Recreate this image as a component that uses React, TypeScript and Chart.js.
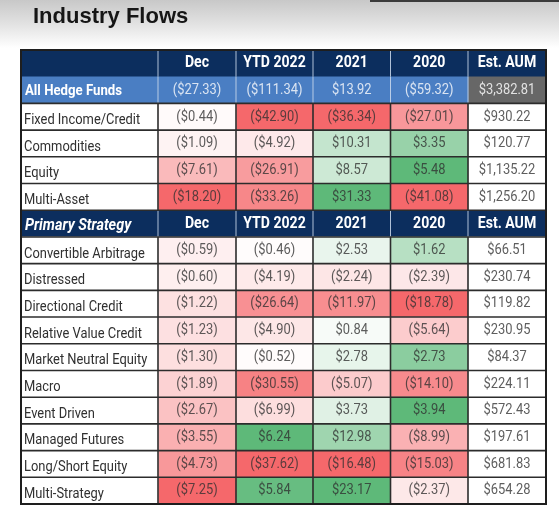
import React, { useEffect, useRef } from 'react';
import { Chart, registerables } from 'chart.js';

Chart.register(...registerables);

// ---------- data ----------
const title = 'Industry Flows';
const columnHeaders = ['Dec', 'YTD 2022', '2021', '2020', 'Est. AUM'];

const totalLabel = 'All Hedge Funds';
const totalValues = [-27.33, -111.34, 13.92, -59.32, 3382.81];

const assetClasses = ['Fixed Income/Credit', 'Commodities', 'Equity', 'Multi-Asset'];
const assetDec = [-0.44, -1.09, -7.61, -18.2];
const assetYtd2022 = [-42.9, -4.92, -26.91, -33.26];
const asset2021 = [-36.34, 10.31, 8.57, 31.33];
const asset2020 = [-27.01, 3.35, 5.48, -41.08];
const assetAum = [930.22, 120.77, 1135.22, 1256.2];

const sectionLabel = 'Primary Strategy';
const strategies = [
  'Convertible Arbitrage',
  'Distressed',
  'Directional Credit',
  'Relative Value Credit',
  'Market Neutral Equity',
  'Macro',
  'Event Driven',
  'Managed Futures',
  'Long/Short Equity',
  'Multi-Strategy',
];
const stratDec = [-0.59, -0.6, -1.22, -1.23, -1.3, -1.89, -2.67, -3.55, -4.73, -7.25];
const stratYtd2022 = [-0.46, -4.19, -26.64, -4.9, -0.52, -30.55, -6.99, 6.24, -37.62, 5.84];
const strat2021 = [2.53, -2.24, -11.97, 0.84, 2.78, -5.07, 3.73, 12.98, -16.48, 23.17];
const strat2020 = [1.62, -2.39, -18.78, -5.64, 2.73, -14.1, 3.94, -8.99, -15.03, -2.37];
const stratAum = [66.51, 230.74, 119.82, 230.95, 84.37, 224.11, 572.43, 197.61, 681.83, 654.28];

// ---------- layout (x-scale units for column edges) ----------
const colEdges = [0, 137, 215, 292, 369.5, 447, 525];

type Kind = 'header' | 'total' | 'asset' | 'strategy';
interface Row {
  kind: Kind;
  label: string;
  values: number[];
}

const assetCols = [assetDec, assetYtd2022, asset2021, asset2020];
const stratCols = [stratDec, stratYtd2022, strat2021, strat2020];

const rows: Row[] = [
  { kind: 'header', label: '', values: [] },
  { kind: 'total', label: totalLabel, values: totalValues },
  ...assetClasses.map((l, i) => ({
    kind: 'asset' as Kind,
    label: l,
    values: [assetDec[i], assetYtd2022[i], asset2021[i], asset2020[i], assetAum[i]],
  })),
  { kind: 'header', label: sectionLabel, values: [] },
  ...strategies.map((l, i) => ({
    kind: 'strategy' as Kind,
    label: l,
    values: [stratDec[i], stratYtd2022[i], strat2021[i], strat2020[i], stratAum[i]],
  })),
];

// ---------- styles ----------
const NAVY = '#0c2e5e';
const BLUE = '#4a7ec3';
const GRAY = '#676767';
const RED = [245, 104, 107];
const GREEN = [94, 185, 121];
const WHITE = [255, 255, 255];

function mix(a: number[], b: number[], t: number): number[] {
  return a.map((v, i) => Math.round(v + (b[i] - v) * t));
}
function rgb(c: number[]) {
  return `rgb(${c[0]},${c[1]},${c[2]})`;
}

function scaleColor(v: number, arr: number[]): number[] {
  const mn = Math.min(...arr);
  const mx = Math.max(...arr);
  if (v < 0 && mn < 0) return mix(WHITE, RED, Math.pow(Math.min(1, v / mn), 0.9));
  if (v > 0 && mx > 0) return mix(WHITE, GREEN, Math.pow(Math.min(1, v / mx), 0.9));
  return WHITE;
}

function cellRgb(r: number, c: number): number[] | null {
  const row = rows[r];
  if (row.kind === 'header' || row.kind === 'total') return null;
  if (c === 0 || c === 5) return WHITE;
  const cols = row.kind === 'asset' ? assetCols : stratCols;
  return scaleColor(row.values[c - 1], cols[c - 1]);
}

function cellColor(r: number, c: number): string {
  const row = rows[r];
  if (row.kind === 'header') return NAVY;
  if (row.kind === 'total') return c === 5 ? GRAY : BLUE;
  return rgb(cellRgb(r, c) as number[]);
}

function fmt(v: number): string {
  const s = Math.abs(v).toLocaleString('en-US', {
    minimumFractionDigits: 2,
    maximumFractionDigits: 2,
  });
  return v < 0 ? `($${s})` : `$${s}`;
}

function drawText(
  ctx: CanvasRenderingContext2D,
  text: string,
  x: number,
  y: number,
  font: string,
  color: string,
  align: CanvasTextAlign,
  sx = 0.86
) {
  ctx.save();
  ctx.font = font;
  ctx.fillStyle = color;
  ctx.textBaseline = 'middle';
  ctx.textAlign = align;
  ctx.translate(x, y);
  ctx.scale(sx, 1);
  ctx.fillText(text, 0, 0);
  ctx.restore();
}

const backgroundPlugin = {
  id: 'bgTitle',
  beforeDraw(chart: any) {
    const { ctx, width, height } = chart;
    ctx.save();
    ctx.fillStyle = '#ffffff';
    ctx.fillRect(0, 0, width, height);
    const g = ctx.createLinearGradient(0, 0, 0, 48);
    g.addColorStop(0, '#c8c8c8');
    g.addColorStop(0.5, '#e2e2e2');
    g.addColorStop(1, '#ffffff');
    ctx.fillStyle = g;
    ctx.fillRect(0, 0, width, 48);
    ctx.fillStyle = '#3a3a3a';
    ctx.fillRect(370, 0, width - 370, 2);
    ctx.restore();
    ctx.save();
    ctx.font = 'bold 22px "Liberation Sans", Arial, sans-serif';
    ctx.fillStyle = '#161616';
    ctx.textBaseline = 'alphabetic';
    ctx.textAlign = 'left';
    ctx.fillText(title, 33, 23);
    ctx.restore();
  },
};

const tablePlugin = {
  id: 'tableText',
  afterDatasetsDraw(chart: any) {
    const ctx: CanvasRenderingContext2D = chart.ctx;
    const area = chart.chartArea;
    const metas = chart.data.datasets.map((_: any, i: number) => chart.getDatasetMeta(i));

    // grid lines
    ctx.save();
    for (let r = 0; r < rows.length; r++) {
      const row = rows[r];
      for (let c = 1; c < metas.length; c++) {
        const el = metas[c].data[r];
        const top = el.y - el.height / 2;
        const x = Math.min(el.x, el.base);
        const light = row.kind === 'header' || row.kind === 'total';
        ctx.strokeStyle = light ? 'rgba(205,218,236,0.85)' : '#2c2c2c';
        ctx.lineWidth = light ? 1 : 1.6;
        ctx.beginPath();
        ctx.moveTo(x, top);
        ctx.lineTo(x, top + el.height);
        ctx.stroke();
      }
      if (r > 1) {
        const el = metas[0].data[r];
        const top = el.y - el.height / 2;
        ctx.strokeStyle = '#2c2c2c';
        ctx.lineWidth = 1.6;
        ctx.beginPath();
        ctx.moveTo(area.left, top);
        ctx.lineTo(area.right, top);
        ctx.stroke();
      }
    }
    ctx.strokeStyle = '#1e1e1e';
    ctx.lineWidth = 2;
    ctx.strokeRect(area.left, area.top, area.right - area.left, area.bottom - area.top);
    ctx.restore();

    // text
    const valFont = '15px Roboto, "Noto Sans", sans-serif';
    const hdrFont = 'bold 16px Roboto, "Noto Sans", sans-serif';
    for (let r = 0; r < rows.length; r++) {
      const row = rows[r];
      for (let c = 0; c < metas.length; c++) {
        const el = metas[c].data[r];
        const left = Math.min(el.x, el.base);
        const right = Math.max(el.x, el.base);
        const cx = (left + right) / 2;
        const cy = el.y;
        if (row.kind === 'header') {
          if (c === 0) {
            if (row.label)
              drawText(ctx, row.label, left + 4, cy + 2, 'italic bold 16px Roboto, sans-serif', '#ffffff', 'left', 0.9);
          } else {
            drawText(ctx, columnHeaders[c - 1], cx, cy, hdrFont, '#ffffff', 'center', 0.88);
          }
        } else if (row.kind === 'total') {
          if (c === 0) {
            drawText(ctx, row.label, left + 4, cy + 1, 'bold 15px Roboto, sans-serif', '#ffffff', 'left', 0.88);
          } else {
            drawText(ctx, fmt(row.values[c - 1]), cx, cy, valFont, c === 5 ? '#e2e2e2' : '#dae4f2', 'center');
          }
        } else {
          if (c === 0) {
            drawText(ctx, row.label, left + 3, cy + 3.5, valFont, '#303030', 'left');
          } else {
            const bg = cellRgb(r, c) as number[];
            const tc = mix(bg, [48, 48, 48], 0.78);
            drawText(ctx, fmt(row.values[c - 1]), cx, cy, valFont, rgb(tc), 'center');
          }
        }
      }
    }
  },
};

export default function App() {
  const canvasRef = useRef<HTMLCanvasElement | null>(null);

  useEffect(() => {
    document.body.style.margin = '0';
    const canvas = canvasRef.current;
    if (!canvas) return;

    const datasets = colEdges.slice(0, -1).map((start, c) => ({
      label: c === 0 ? 'label' : columnHeaders[c - 1],
      data: rows.map(() => [start, colEdges[c + 1]] as [number, number]),
      backgroundColor: (ctx: any) => cellColor(ctx.dataIndex, c),
      borderWidth: 0,
      borderSkipped: false,
      grouped: false,
      categoryPercentage: 1,
      barPercentage: 1,
    }));

    const chart = new Chart(canvas, {
      type: 'bar',
      data: {
        labels: rows.map((r) => r.label),
        datasets: datasets as any,
      },
      options: {
        indexAxis: 'y',
        responsive: false,
        animation: false,
        devicePixelRatio: 1,
        layout: { padding: { left: 21, top: 50, right: 13, bottom: 8 } },
        plugins: {
          legend: { display: false },
          tooltip: { enabled: false },
          title: { display: false },
        },
        scales: {
          x: { type: 'linear', min: 0, max: colEdges[colEdges.length - 1], display: false },
          y: { type: 'category', display: false, offset: true },
        },
      },
      plugins: [backgroundPlugin, tablePlugin],
    });

    return () => chart.destroy();
  }, []);

  return (
    <div style={{ width: 559, height: 512 }}>
      <canvas ref={canvasRef} width={559} height={512} style={{ display: 'block' }} />
    </div>
  );
}
